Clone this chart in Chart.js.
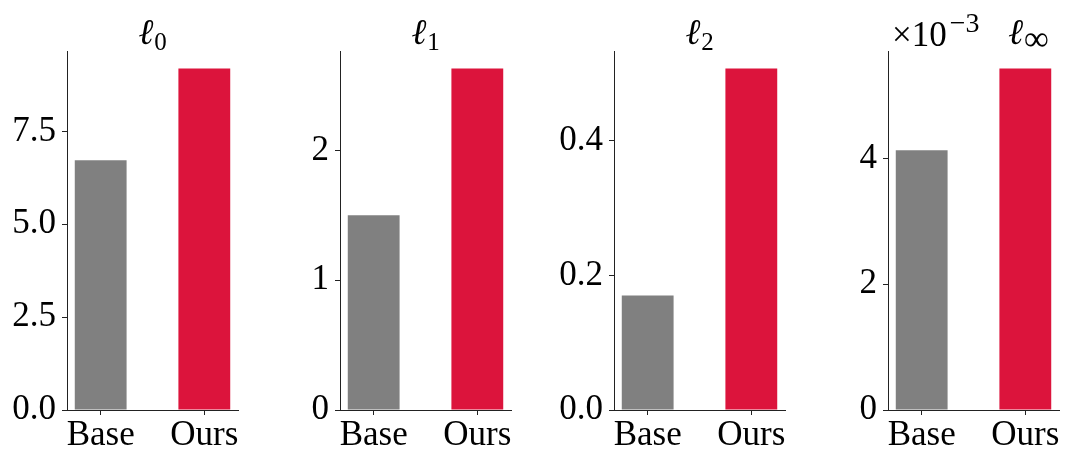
<!DOCTYPE html>
<html>
<head>
<meta charset="utf-8">
<script src="https://cdn.jsdelivr.net/npm/chart.js@4.4.1/dist/chart.umd.min.js"></script>
<style>
  html, body { margin: 0; padding: 0; background: #fff; }
  #wrap { position: relative; width: 1065px; height: 449px; overflow: hidden; }
  .panel { position: absolute; top: 0; height: 449px; }
</style>
</head>
<body>
<div id="wrap"></div>
<script>
// Categories and bar colours
const categories = ['Base', 'Ours'];
const barColors = ['#808080', '#DC143C'];

// Norm values per method
const l0Values = [6.72, 9.19];
const l1Values = [1.50, 2.63];
const l2Values = [0.170, 0.507];
const lInfValues = [0.00413, 0.00543];

// Y tick positions and their labels
const l0Ticks = [0, 2.5, 5, 7.5];
const l0TickLabels = ['0.0', '2.5', '5.0', '7.5'];
const l1Ticks = [0, 1, 2];
const l1TickLabels = ['0', '1', '2'];
const l2Ticks = [0, 0.2, 0.4];
const l2TickLabels = ['0.0', '0.2', '0.4'];
const lInfTicks = [0, 0.002, 0.004];
const lInfTickLabels = ['0', '2', '4'];

// Panel titles: ℓ with a subscript
const titleSubscripts = ['0', '1', '2', '∞'];
// Scale factor text shown above the ℓ∞ panel
const lInfOffsetBase = '×10';
const lInfOffsetExp = '−3';

const panels = [
  { values: l0Values, ticks: l0Ticks, labels: l0TickLabels, sub: titleSubscripts[0] },
  { values: l1Values, ticks: l1Ticks, labels: l1TickLabels, sub: titleSubscripts[1] },
  { values: l2Values, ticks: l2Ticks, labels: l2TickLabels, sub: titleSubscripts[2] },
  { values: lInfValues, ticks: lInfTicks, labels: lInfTickLabels, sub: titleSubscripts[3],
    offsetText: [lInfOffsetBase, lInfOffsetExp] }
];

// Layout / style
const FONT = '"Liberation Serif", "DejaVu Serif", serif';
const plotLefts = [67, 340, 614, 888];
const plotWidth = 171;
const axisW = 70;
const padRight = 6;
const plotTop = 51.5;
const plotBottom = 410;
const canvasH = 449;
const titleShift = [0, 0, 0, 55];
const axisColor = '#222';

function normTitlePlugin(idx, p) {
  return {
    id: 'normTitle' + idx,
    afterDraw(chart) {
      const ctx = chart.ctx;
      const a = chart.chartArea;
      ctx.save();
      ctx.fillStyle = '#000';
      ctx.textBaseline = 'alphabetic';
      ctx.textAlign = 'left';
      const ellFont = 'italic 36px ' + FONT;
      const subFont = (p.sub === '∞' ? '35px ' : '25px ') + FONT;
      ctx.font = ellFont;
      const wEll = ctx.measureText('ℓ').width;
      ctx.font = subFont;
      const wSub = ctx.measureText(p.sub).width;
      const total = wEll + 1 + wSub;
      const x0 = (a.left + a.right) / 2 - total / 2 + titleShift[idx];
      ctx.font = ellFont;
      ctx.fillText('ℓ', x0, 44);
      ctx.font = subFont;
      ctx.fillText(p.sub, x0 + wEll + 1, 50);

      if (p.offsetText) {
        const bx = a.left + 4;
        ctx.font = '35px ' + FONT;
        ctx.fillText(p.offsetText[0], bx, 46);
        const wb = ctx.measureText(p.offsetText[0]).width;
        ctx.font = '28px ' + FONT;
        ctx.fillText(p.offsetText[1], bx + wb + 3, 32);
      }
      ctx.restore();
    }
  };
}

const wrap = document.getElementById('wrap');

panels.forEach((p, i) => {
  const div = document.createElement('div');
  div.className = 'panel';
  div.style.left = (plotLefts[i] - axisW) + 'px';
  div.style.width = (axisW + plotWidth + padRight) + 'px';
  const cv = document.createElement('canvas');
  div.appendChild(cv);
  wrap.appendChild(div);

  const tickFont = { family: FONT, size: 35 };

  new Chart(cv, {
    type: 'bar',
    data: {
      datasets: [{
        data: categories.map((c, k) => ({ x: k, y: p.values[k] })),
        backgroundColor: barColors,
        borderWidth: 0,
        categoryPercentage: 1,
        barPercentage: 0.5
      }]
    },
    options: {
      responsive: true,
      maintainAspectRatio: false,
      animation: false,
      devicePixelRatio: 1,
      layout: { padding: { top: plotTop, right: padRight, left: 0, bottom: 0 } },
      plugins: {
        legend: { display: false },
        tooltip: { enabled: false },
        title: { display: false }
      },
      scales: {
        x: {
          type: 'linear',
          offset: false,
          min: -0.325,
          max: 1.325,
          afterBuildTicks: s => { s.ticks = categories.map((c, k) => ({ value: k })); },
          afterFit: s => { s.height = canvasH - plotBottom; },
          ticks: {
            callback: v => categories[v],
            font: tickFont,
            color: '#000',
            padding: 0,
            maxRotation: 0,
            autoSkip: false
          },
          grid: { offset: false, drawOnChartArea: false, drawTicks: true, tickLength: 5, color: axisColor, lineWidth: 1 },
          border: { display: true, color: axisColor, width: 1 }
        },
        y: {
          type: 'linear',
          min: 0,
          max: Math.max(...p.values) * 1.05,
          afterBuildTicks: s => { s.ticks = p.ticks.map(v => ({ value: v })); },
          afterFit: s => { s.width = axisW; },
          ticks: {
            callback: (v, k) => p.labels[k],
            font: tickFont,
            color: '#000',
            padding: 6,
            autoSkip: false
          },
          grid: { drawOnChartArea: false, drawTicks: true, tickLength: 5, color: axisColor, lineWidth: 1 },
          border: { display: true, color: axisColor, width: 1 }
        }
      }
    },
    plugins: [normTitlePlugin(i, p)]
  });
});
</script>
</body>
</html>
